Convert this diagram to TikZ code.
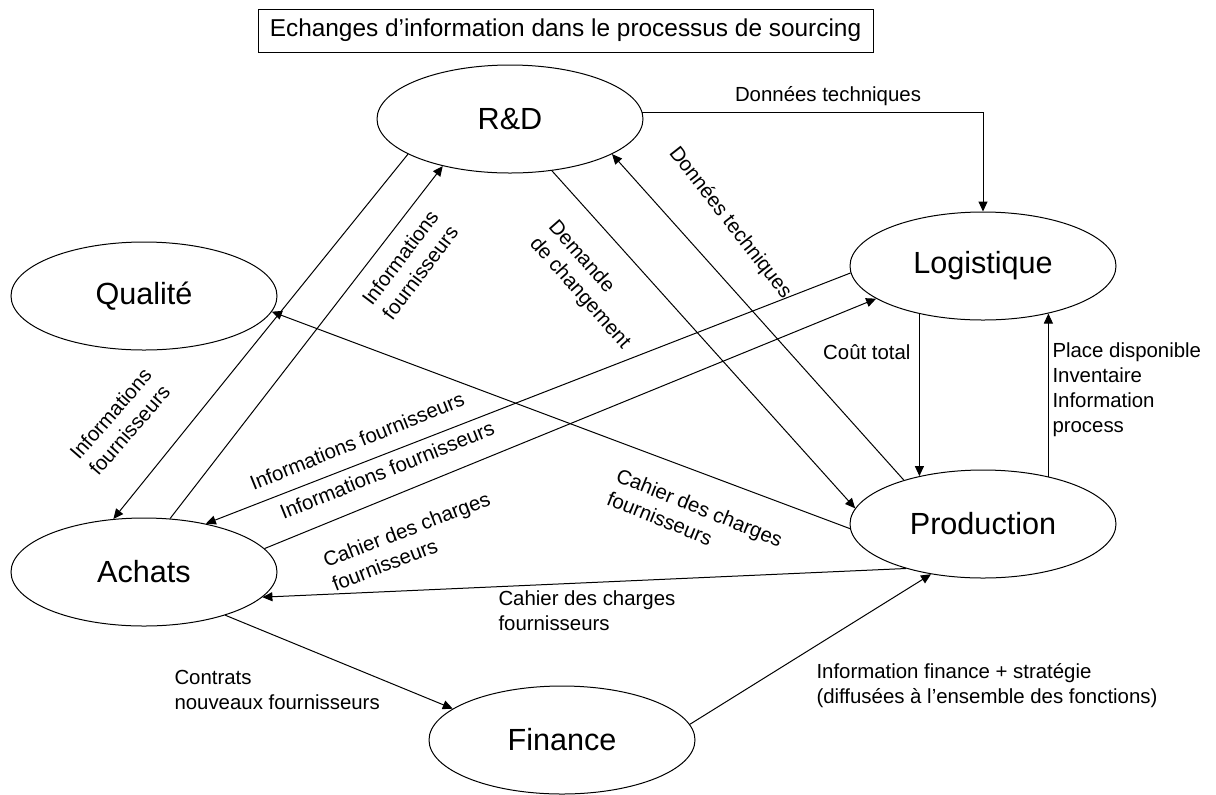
\documentclass[tikz,border=0pt]{standalone}
\usepackage{fontspec}
\setmainfont{Liberation Sans}
\usetikzlibrary{shapes, arrows.meta}

\begin{document}
\begin{tikzpicture}[x=0.5pt,y=-0.5pt,line width=0.5pt,
        fonction/.style={draw,ellipse,minimum width=133pt,minimum height=54pt,inner sep=0pt,font=\fontsize{15.3}{18}\selectfont},
        flux/.style={-{Triangle[length=5pt,width=4.5pt]}},
        lbl/.style={inner sep=0pt,align=left,font=\fontsize{10.2}{12.5}\selectfont}]
        \useasboundingbox (0,0) rectangle (1216,794);
        \node[draw,minimum width=307.5pt,minimum height=21.5pt,inner sep=0pt,font=\fontsize{12.2}{14}\selectfont] (titre) at (565.5,30.5) {Echanges d’information dans le processus de sourcing};
        \node[fonction] (rd) at (510,119) {R\&D};
        \node[fonction] (qual) at (144,296) {Qualité};
        \node[fonction] (log) at (983,266) {Logistique};
        \node[fonction] (ach) at (144,572) {Achats};
        \node[fonction] (prod) at (983,524) {Production};
        \node[fonction] (fin) at (562,740) {Finance};
        \draw[flux] (rd.3) -| (log.north);
        \draw[flux] (prod.151) -- (rd.-19);
        \draw[flux] (rd.-51) -- (prod.173);
        \draw[flux] (ach.64) -- (rd.215);
        \draw[flux] (rd.199) -- (ach.120);
        \draw[flux] (prod.182) -- (qual.-7);
        \draw[flux] (log.183) -- (ach.38);
        \draw[flux] (ach.11) -- (log.197);
        \draw[flux] (prod.210) -- (ach.-12);
        \draw[flux] (log.217) -- (prod.143);
        \draw[flux] (prod.36) -- (log.-36);
        \draw[flux] (ach.-28) -- (fin.164);
        \draw[flux] (fin.7) -- (prod.224);
        \node[lbl] (dt1) at (828,96) {Données techniques};
        \node[lbl,rotate=-52] (dt2) at (730,223) {Données techniques};
        \node[lbl,rotate=-48.5] (dchg) at (589,285) {Demande\\de changement};
        \node[lbl,align=center,rotate=53] (if1) at (410,265) {Informations\\fournisseurs};
        \node[lbl,align=center,rotate=49] (if2) at (120,422) {Informations\\fournisseurs};
        \node[lbl,rotate=22] (if3) at (357,441) {Informations fournisseurs};
        \node[lbl,rotate=22] (if4) at (387,470) {Informations fournisseurs};
        \node[lbl,rotate=21] (cdc1) at (411,541) {Cahier des charges\\fournisseurs};
        \node[lbl,rotate=-22] (cdc2) at (695,519) {Cahier des charges\\fournisseurs};
        \node[lbl,anchor=west] (cdc3) at (498,611) {Cahier des charges\\fournisseurs};
        \node[lbl,anchor=west] (ctr) at (174,690) {Contrats\\nouveaux fournisseurs};
        \node[lbl,anchor=west] (ifin) at (816,686) {Information finance + stratégie\\(diffusées à l’ensemble des fonctions)};
        \node[lbl,anchor=east] (cout) at (911,352) {Coût total};
        \node[lbl,anchor=west] (place) at (1052,390) {Place disponible\\Inventaire\\Information\\process};
    \end{tikzpicture}
\end{document}
